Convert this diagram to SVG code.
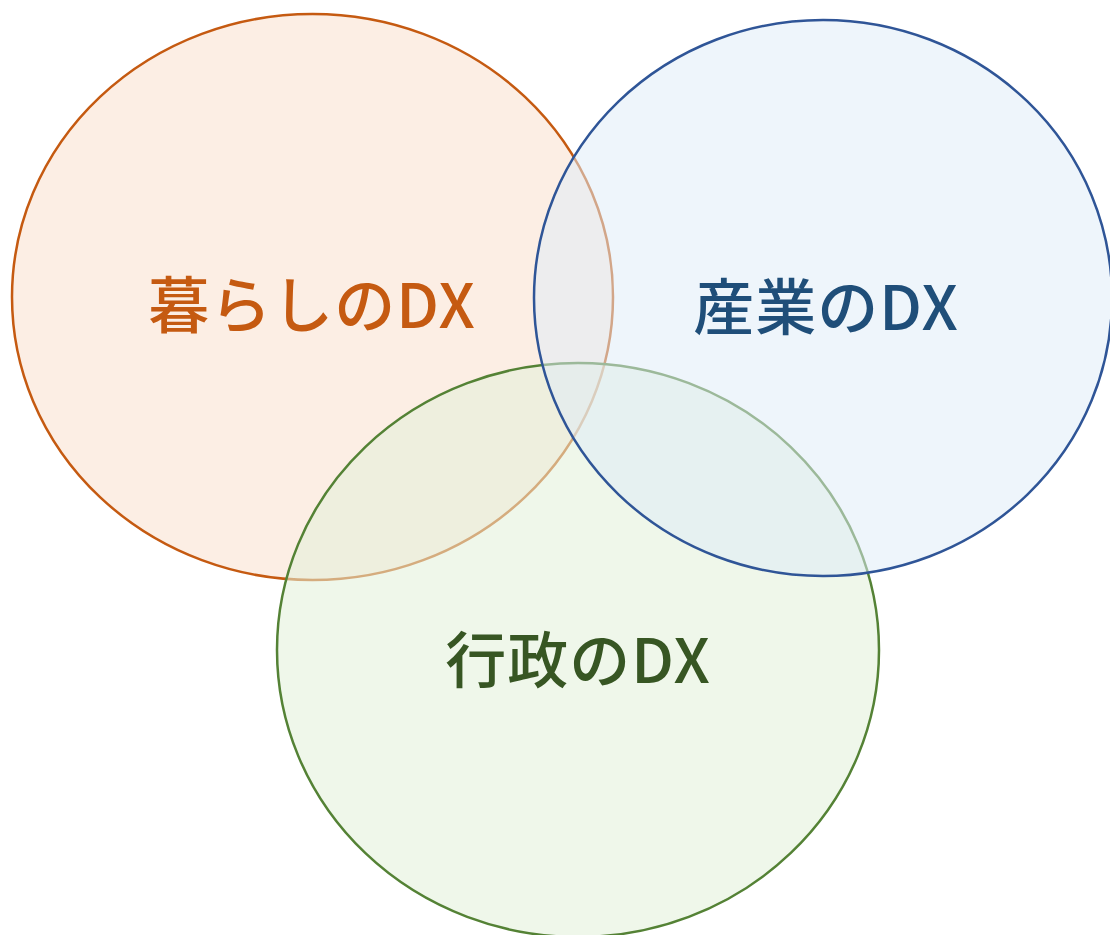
<svg xmlns="http://www.w3.org/2000/svg" width="1110" height="935" viewBox="0 0 1110 935">
<style>
.lbl{font-family:"Noto Sans CJK JP","Noto Sans",sans-serif;font-size:61px;font-weight:500;text-anchor:middle;letter-spacing:1px}
.e{stroke-width:2.5}
</style>
<rect width="1110" height="935" fill="#ffffff"/>
<g id="kurashi">
<ellipse class="e" cx="312.5" cy="297" rx="300.5" ry="283" fill="#FBE5D6" fill-opacity="0.65" stroke="#C55A11"/>
</g>
<g id="gyousei">
<ellipse class="e" cx="578" cy="650" rx="301" ry="287" fill="#E2F0D9" fill-opacity="0.55" stroke="#548235"/>
</g>
<g id="sangyou">
<ellipse class="e" cx="823" cy="298" rx="289" ry="278" fill="#DEEBF7" fill-opacity="0.52" stroke="#2F5597"/>
</g>
<g id="labels">
<text class="lbl" x="312" y="328" fill="#C55A11">暮らしのDX</text>
<text class="lbl" x="826" y="330" fill="#1F4E79">産業のDX</text>
<text class="lbl" x="578" y="683" fill="#375623">行政のDX</text>
</g>
<g id="connectors"></g>
</svg>
